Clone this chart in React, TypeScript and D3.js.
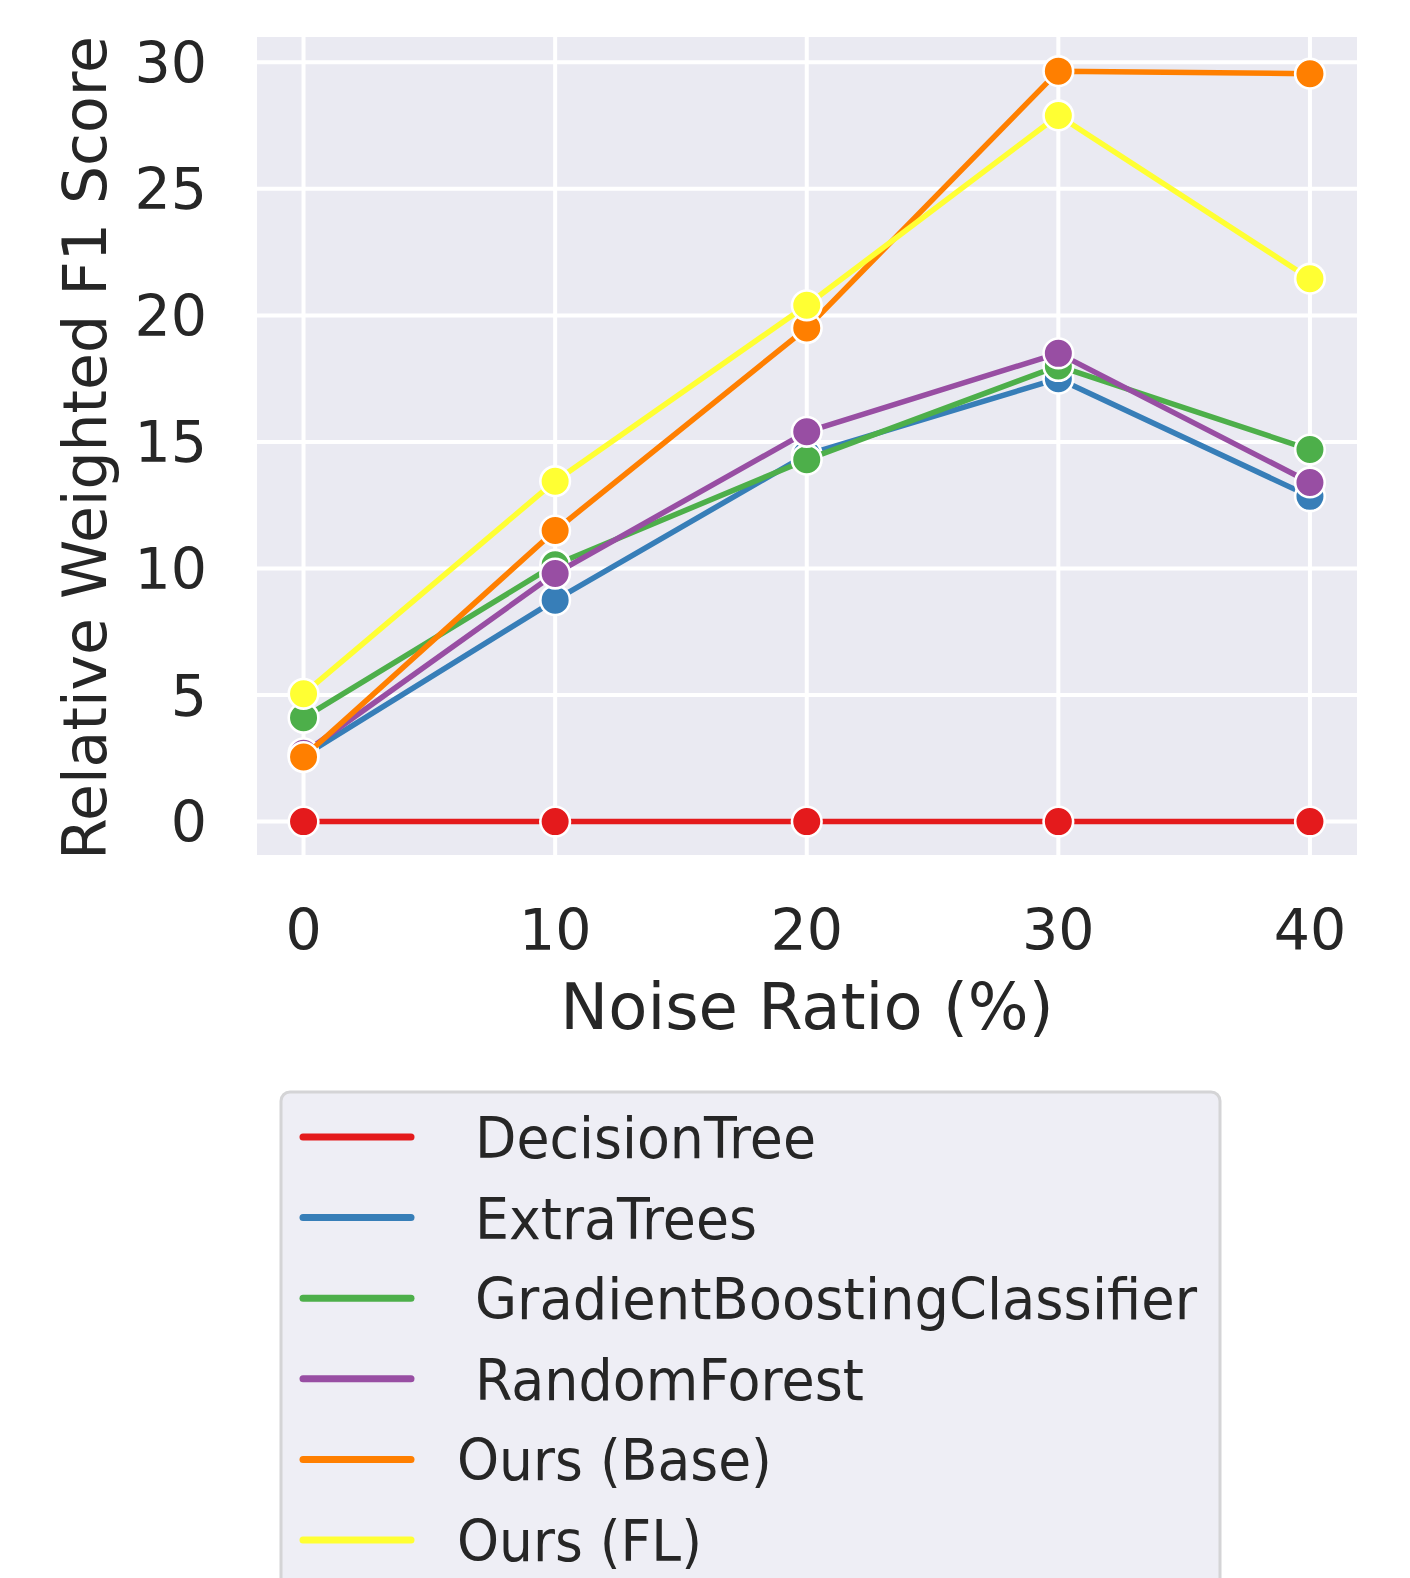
import React from "react";
import * as d3 from "d3";

const noiseRatios = [0, 10, 20, 30, 40];
const seriesNames = [
  "DecisionTree",
  "ExtraTrees",
  "GradientBoostingClassifier",
  "RandomForest",
  "Ours (Base)",
  "Ours (FL)",
];
const decisionTree = [0, 0, 0, 0, 0];
const extraTrees = [2.6, 8.75, 14.5, 17.5, 12.85];
const gradientBoosting = [4.1, 10.15, 14.3, 18.0, 14.7];
const randomForest = [2.7, 9.8, 15.4, 18.5, 13.4];
const oursBase = [2.55, 11.5, 19.5, 29.65, 29.55];
const oursFL = [5.05, 13.45, 20.4, 27.9, 21.45];
const yTicks = [0, 5, 10, 15, 20, 25, 30];
const xTicks = [0, 10, 20, 30, 40];
const colors = ["#e41a1c", "#377eb8", "#4daf4a", "#984ea3", "#ff7f00", "#ffff33"];

// styling / layout
const W = 1410;
const H = 1578;
const plot = { left: 257, right: 1357, top: 37, bottom: 855 };
const legendLabelX = [475, 475, 475, 475, 457, 457];
const legendLabelWidths = [341, 282, 722, 389, 315, 245];
const FONT = "'DejaVu Sans', sans-serif";
const TEXT = "#262626";

export default function App() {
  const allSeries = [decisionTree, extraTrees, gradientBoosting, randomForest, oursBase, oursFL];
  const x = d3.scaleLinear().domain([-1.85, 41.87]).range([plot.left, plot.right]);
  const y = d3.scaleLinear().domain([-1.32, 31.0]).range([plot.bottom, plot.top]);
  const line = d3
    .line<number>()
    .x((_, i) => x(noiseRatios[i]))
    .y((d) => y(d));

  const legendTop = 1092;
  const rowStart = 1137;
  const rowStep = 80.6;

  return (
    <svg
      width={W}
      height={H}
      style={{ position: "absolute", left: 0, top: 0, background: "#ffffff" }}
      fontFamily={FONT}
    >
      <rect x={0} y={0} width={W} height={H} fill="#ffffff" />
      <rect
        x={plot.left}
        y={plot.top}
        width={plot.right - plot.left}
        height={plot.bottom - plot.top}
        fill="#eaeaf2"
      />
      {yTicks.map((t) => (
        <line
          key={"gy" + t}
          x1={plot.left}
          x2={plot.right}
          y1={y(t)}
          y2={y(t)}
          stroke="#ffffff"
          strokeWidth={4}
        />
      ))}
      {xTicks.map((t) => (
        <line
          key={"gx" + t}
          x1={x(t)}
          x2={x(t)}
          y1={plot.top}
          y2={plot.bottom}
          stroke="#ffffff"
          strokeWidth={4}
        />
      ))}
      {allSeries.map((s, si) => (
        <g key={"s" + si}>
          <path
            d={line(s) || ""}
            fill="none"
            stroke={colors[si]}
            strokeWidth={5.5}
            strokeLinejoin="round"
            strokeLinecap="round"
          />
          {s.map((v, i) => (
            <circle
              key={i}
              cx={x(noiseRatios[i])}
              cy={y(v)}
              r={14.8}
              fill={colors[si]}
              stroke="#ffffff"
              strokeWidth={2.6}
            />
          ))}
        </g>
      ))}
      {yTicks.map((t) => (
        <text
          key={"ty" + t}
          x={207}
          y={y(t) + 20.5}
          textAnchor="end"
          fontSize={57}
          fill={TEXT}
        >
          {t}
        </text>
      ))}
      {xTicks.map((t) => (
        <text
          key={"tx" + t}
          x={x(t)}
          y={950}
          textAnchor="middle"
          fontSize={57}
          fill={TEXT}
        >
          {t}
        </text>
      ))}
      <text
        x={(plot.left + plot.right) / 2}
        y={1029}
        textAnchor="middle"
        fontSize={64}
        fill={TEXT}
      >
        Noise Ratio (%)
      </text>
      <text
        transform={`translate(106, ${(plot.top + plot.bottom) / 2 + 2}) rotate(-90)`}
        textAnchor="middle"
        fontSize={60}
        fill={TEXT}
      >
        Relative Weighted F1 Score
      </text>
      <rect
        x={281}
        y={legendTop}
        width={1220 - 281}
        height={600}
        rx={9}
        ry={9}
        fill="#eeeef5"
        stroke="#d4d4d6"
        strokeWidth={3}
      />
      {seriesNames.map((name, i) => {
        const cy = rowStart + i * rowStep;
        return (
          <g key={"lg" + i}>
            <line
              x1={303}
              x2={411}
              y1={cy}
              y2={cy}
              stroke={colors[i]}
              strokeWidth={7}
              strokeLinecap="round"
            />
            <text
              x={legendLabelX[i]}
              y={cy + 21}
              fontSize={57}
              fill={TEXT}
              textLength={legendLabelWidths[i]}
              lengthAdjust="spacingAndGlyphs"
            >
              {name}
            </text>
          </g>
        );
      })}
    </svg>
  );
}
